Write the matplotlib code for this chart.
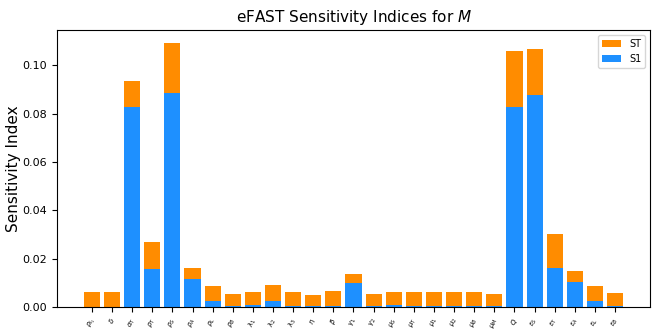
import numpy as np
import matplotlib
matplotlib.use("Agg")
import matplotlib.pyplot as plt

labels = [r"$\rho_{I_1}$", r"$\delta$", r"$\alpha_T$", r"$\rho_T$", r"$\rho_S$",
          r"$\rho_A$", r"$\rho_L$", r"$\rho_B$", r"$\lambda_1$", r"$\lambda_2$",
          r"$\lambda_3$", r"$\eta$", r"$\beta$", r"$\gamma_1$", r"$\gamma_2$",
          r"$\mu_S$", r"$\mu_T$", r"$\mu_1$", r"$\mu_2$", r"$\mu_B$", r"$\mu_M$",
          r"$Q$", r"$\epsilon_S$", r"$\epsilon_T$", r"$\epsilon_A$", r"$\epsilon_L$",
          r"$\epsilon_B$"]

st = [0.0060, 0.0063, 0.0934, 0.0270, 0.1090, 0.0160, 0.0088, 0.0055, 0.0063,
      0.0092, 0.0060, 0.0050, 0.0068, 0.0138, 0.0055, 0.0063, 0.0063, 0.0060,
      0.0060, 0.0060, 0.0055, 0.1057, 0.1065, 0.0300, 0.0148, 0.0088, 0.0058]
s1 = [0.0000, 0.0000, 0.0826, 0.0155, 0.0887, 0.0115, 0.0025, 0.0005, 0.0008,
      0.0025, 0.0005, 0.0003, 0.0005, 0.0098, 0.0003, 0.0010, 0.0003, 0.0003,
      0.0003, 0.0003, 0.0002, 0.0828, 0.0878, 0.0163, 0.0105, 0.0025, 0.0005]

x = np.arange(len(labels))

fig = plt.figure(figsize=(6.54, 3.29), dpi=100)
ax = fig.add_subplot(111)
ax.bar(x, st, color="darkorange", label="ST")
ax.bar(x, s1, color="dodgerblue", label="S1")
ax.set_xticks(x)
ax.set_xticklabels(labels, rotation=70, fontsize=5)
ax.tick_params(axis="y", labelsize=8)
ax.set_ylabel("Sensitivity Index", fontsize=11, labelpad=1)
ax.set_title("eFAST Sensitivity Indices for $M$", fontsize=11)
ax.legend(loc="upper right", fontsize=7)
fig.subplots_adjust(left=0.087, right=0.994, top=0.908, bottom=0.067)
fig.savefig("out.png", dpi=100)
